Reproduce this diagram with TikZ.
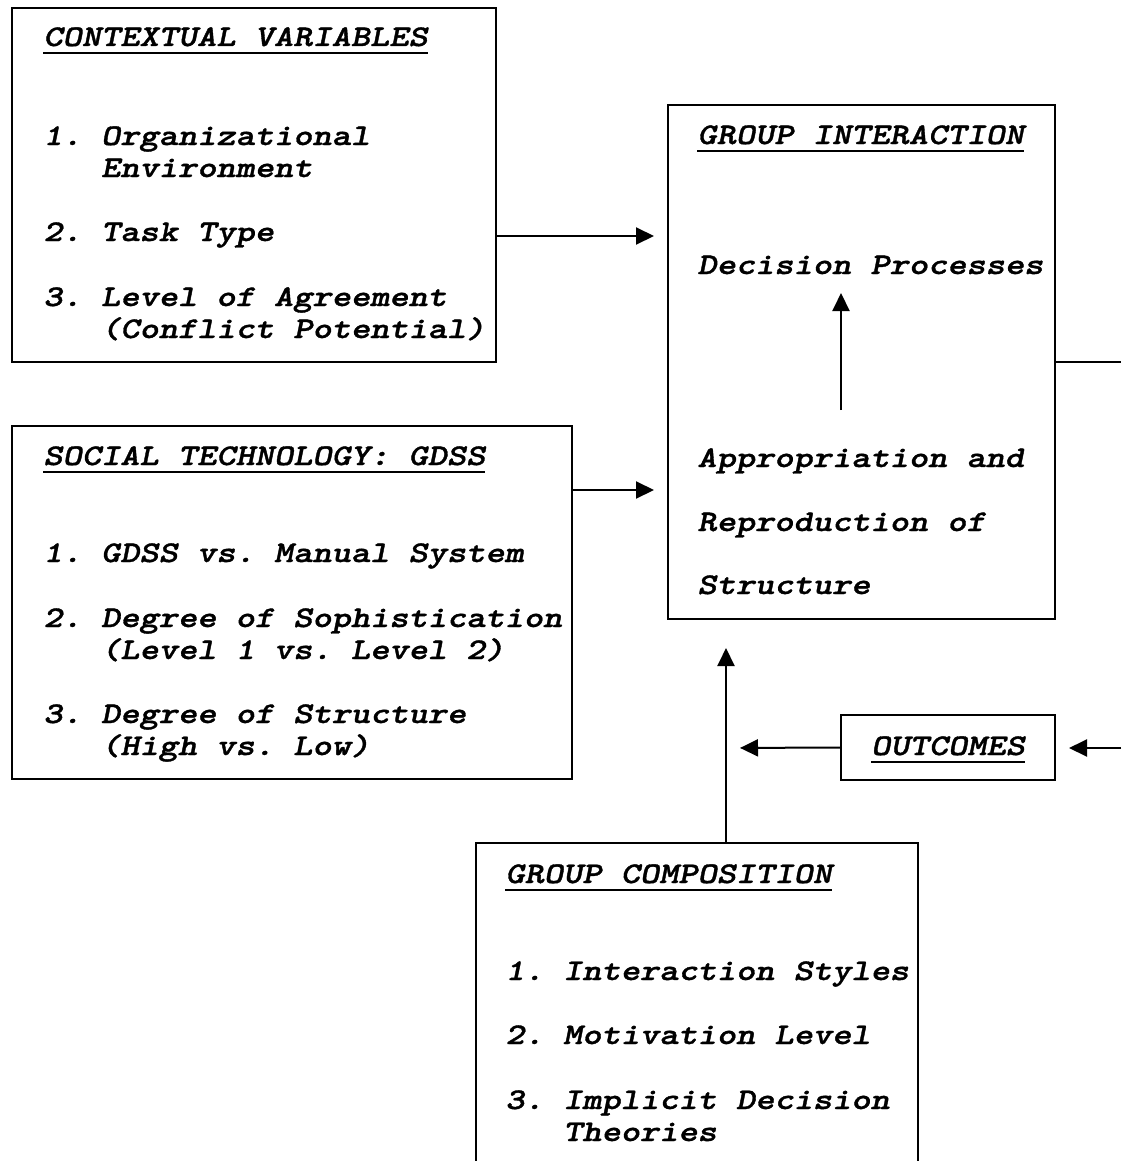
\documentclass[tikz,border=0pt]{standalone}
\usepackage{fontspec}
\usepackage{tikz}
\usetikzlibrary{arrows.meta}
\usetikzlibrary{fit}

\newfontfamily\boxfont{lmmonolt10-boldoblique.otf}[FakeStretch=1.22,FakeBold=1.2]
\newsavebox{\headbox}
\newcommand{\headline}[1]{\sbox{\headbox}{#1}\rlap{\vrule width\wd\headbox height -3pt depth 4pt}\usebox{\headbox}}

\tikzset{
  box/.style={draw, line width=1pt, inner sep=0pt},
  txt/.style={anchor=base west, inner sep=0pt, font=\fontsize{15pt}{16pt}\boxfont\frenchspacing},
  arr/.style={line width=1pt, -{Triangle[length=9pt,width=8.5pt,sep=1.5pt]}},
}

\begin{document}
\begin{tikzpicture}[x=0.5pt,y=-0.5pt]
  \path[use as bounding box, clip] (0,0) rectangle (1121,1161);

  % boxes
  \node[box, fit={(12,8) (496,362)}] (ctx) {};
  \node[box, fit={(12,426) (572,779)}] (gdss) {};
  \node[box, fit={(668,105) (1055,619)}] (gi) {};
  \node[box, fit={(841,715) (1055,780)}] (out) {};
  \node[box, fit={(476,843) (918,1200)}] (gc) {};

  % contextual variables
  \node[txt] (ctxhead) at (43,46) {\headline{CONTEXTUAL VARIABLES}};
  \node[txt] (ctxa) at (43,145) {1. Organizational};
  \node[txt] (ctxa2) at (43,177) {\phantom{1. }Environment};
  \node[txt] (ctxb) at (43,241) {2. Task Type};
  \node[txt] (ctxc) at (43,306) {3. Level of Agreement};
  \node[txt] (ctxc2) at (43,338) {\phantom{1. }(Conflict Potential)};

  % social technology
  \node[txt] (gdsshead) at (43,465) {\headline{SOCIAL TECHNOLOGY: GDSS}};
  \node[txt] (gdssa) at (43,562) {1. GDSS vs. Manual System};
  \node[txt] (gdssb) at (43,627) {2. Degree of Sophistication};
  \node[txt] (gdssb2) at (43,659) {\phantom{1. }(Level 1 vs. Level 2)};
  \node[txt] (gdssc) at (43,723) {3. Degree of Structure};
  \node[txt] (gdssc2) at (43,755) {\phantom{1. }(High vs. Low)};

  % group interaction
  \node[txt] (gihead) at (697,144) {\headline{GROUP INTERACTION}};
  \node[txt] (dp) at (697,274) {Decision Processes};
  \node[txt] (ap) at (697,467) {Appropriation and};
  \node[txt] (ap2) at (697,531) {Reproduction of};
  \node[txt] (ap3) at (697,594) {Structure};

  % outcomes
  \node[txt, anchor=base] (outtxt) at (948,755) {\headline{OUTCOMES}};

  % group composition
  \node[txt] (gchead) at (505,883) {\headline{GROUP COMPOSITION}};
  \node[txt] (gca) at (505,980) {1. Interaction Styles};
  \node[txt] (gcb) at (505,1044) {2. Motivation Level};
  \node[txt] (gcc) at (505,1109) {3. Implicit Decision};
  \node[txt] (gcc2) at (505,1141) {\phantom{1. }Theories};

  % connectors
  \coordinate (ya) at (0,236);
  \coordinate (yb) at (0,490);
  \coordinate (apfoot) at (841,410);
  \coordinate (dpfoot) at (841,290);
  \coordinate (rimA) at (1121,362);
  \coordinate (rimB) at (1121,748);
  \coordinate (jn) at (726,748);

  \draw[arr, shorten >=5pt] (ctx.east |- ya) -- (gi.west |- ya);
  \draw[arr, shorten >=5pt] (gdss.east |- yb) -- (gi.west |- yb);
  \draw[arr] (apfoot) -- (dpfoot);
  \draw[line width=1pt] (gi.east |- rimA) -- (rimA);
  \draw[arr, shorten >=5pt] (rimB) -- (out.east |- rimB);
  \draw[arr, shorten >=5.5pt] (out.west) -- (jn);
  \draw[arr, shorten >=12.5pt] (gc.north -| jn) -- (gi.south -| jn);
\end{tikzpicture}
\end{document}
